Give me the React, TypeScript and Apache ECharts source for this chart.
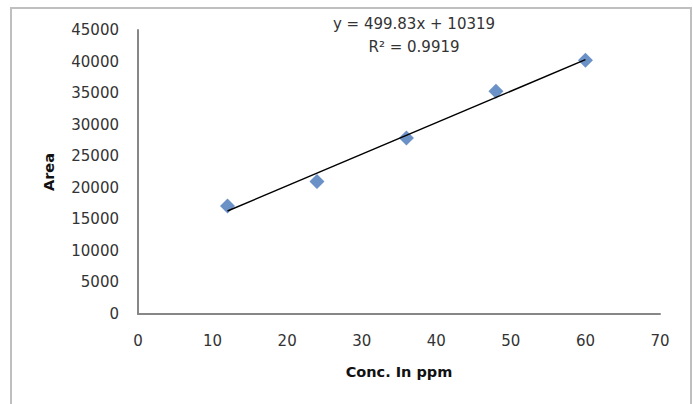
import React, { useEffect, useRef } from "react";
import * as echarts from "echarts";

const concentrations = [12, 24, 36, 48, 60];
const areas = [17100, 21000, 27900, 35300, 40200];
const slope = 499.83;
const intercept = 10319;
const equationText = "y = 499.83x + 10319";
const r2Text = "R² = 0.9919";
const xTicks = { min: 0, max: 70, interval: 10 };
const yTicks = { min: 0, max: 45000, interval: 5000 };

export default function App() {
  const ref = useRef<HTMLDivElement>(null);
  useEffect(() => {
    if (!ref.current) return;
    const chart = echarts.init(ref.current, null, { renderer: "svg" });
    const xMin = Math.min(...concentrations);
    const xMax = Math.max(...concentrations);
    const trend = [xMin, xMax].map((x) => [x, slope * x + intercept]);
    const font = "DejaVu Sans";
    chart.setOption({
      animation: false,
      backgroundColor: "#ffffff",
      textStyle: { fontFamily: font },
      grid: { left: 138, right: 33, top: 30, bottom: 90 },
      graphic: [
        {
          type: "rect",
          shape: { x: 11, y: 8, width: 680, height: 420 },
          style: { fill: "none", stroke: "#bfbfbf", lineWidth: 2 },
          silent: true,
        },
        {
          type: "text",
          x: 414,
          y: 24,
          style: {
            text: equationText,
            font: `15px ${font}`,
            fill: "#333333",
            align: "center",
            verticalAlign: "middle",
          },
        },
        {
          type: "text",
          x: 414,
          y: 47,
          style: {
            text: r2Text,
            font: `15px ${font}`,
            fill: "#333333",
            align: "center",
            verticalAlign: "middle",
          },
        },
      ],
      xAxis: {
        type: "value",
        min: xTicks.min,
        max: xTicks.max,
        interval: xTicks.interval,
        name: "Conc. In ppm",
        nameLocation: "middle",
        nameGap: 50,
        nameTextStyle: { fontWeight: "bold", fontSize: 14.5, color: "#111", fontFamily: font },
        axisLine: { show: true, lineStyle: { color: "#878787", width: 2 } },
        axisTick: { show: false },
        splitLine: { show: false },
        axisLabel: { margin: 19, fontSize: 15, color: "#333", fontFamily: font, formatter: (v: number) => String(v) },
      },
      yAxis: {
        type: "value",
        min: yTicks.min,
        max: yTicks.max,
        interval: yTicks.interval,
        name: "Area",
        nameLocation: "middle",
        nameGap: 82,
        nameRotate: 90,
        nameTextStyle: { fontWeight: "bold", fontSize: 14.5, color: "#111", fontFamily: font },
        axisLine: { show: true, lineStyle: { color: "#878787", width: 2 } },
        axisTick: { show: false },
        splitLine: { show: false },
        axisLabel: { margin: 19, fontSize: 15, color: "#333", fontFamily: font, formatter: (v: number) => String(v) },
      },
      series: [
        {
          type: "line",
          data: trend,
          symbol: "none",
          lineStyle: { color: "#000000", width: 1.5 },
          z: 3,
          silent: true,
        },
        {
          type: "scatter",
          data: concentrations.map((c, i) => [c, areas[i]]),
          symbol: "diamond",
          symbolSize: [15, 15],
          itemStyle: { color: "#4677b8" },
          z: 2,
        },
      ],
    });
    return () => chart.dispose();
  }, []);
  return (
    <div
      ref={ref}
      style={{ position: "absolute", left: 0, top: 0, width: 693, height: 404 }}
    />
  );
}
